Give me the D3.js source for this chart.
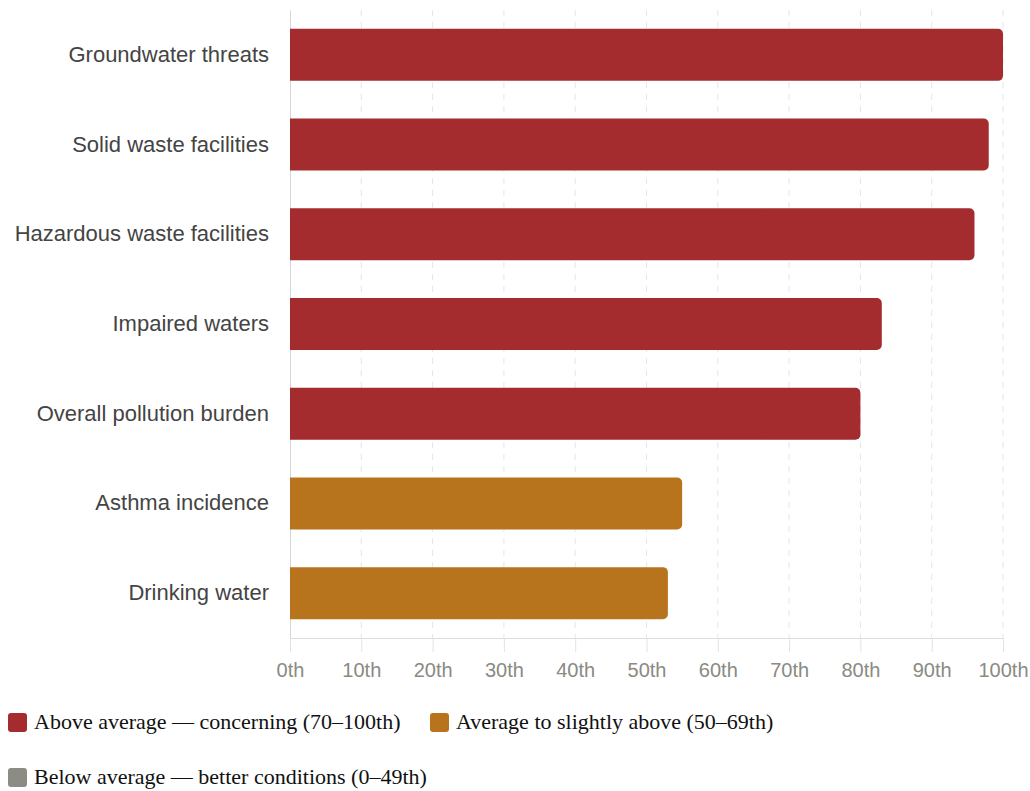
<!DOCTYPE html>
<html>
<head>
<meta charset="utf-8">
<script src="https://cdn.jsdelivr.net/npm/d3@7"></script>
<style>
  body { margin: 0; background: #fff; }
</style>
</head>
<body>
<div id="chart"></div>
<script>
// indicator percentiles
const categories = ['Groundwater threats', 'Solid waste facilities', 'Hazardous waste facilities',
  'Impaired waters', 'Overall pollution burden', 'Asthma incidence', 'Drinking water'];
const values = [100, 98, 96, 83, 80, 55, 53];
const tickValues = [0, 10, 20, 30, 40, 50, 60, 70, 80, 90, 100];
const legendLabels = ['Above average \u2014 concerning (70\u2013100th)',
  'Average to slightly above (50\u201369th)',
  'Below average \u2014 better conditions (0\u201349th)'];
const legendColors = ['#a42c2f', '#b8741c', '#8c8c84'];

const width = 1030, height = 791;
const margin = {top: 10, right: 27, bottom: 153, left: 290};

const svg = d3.select('#chart').append('svg')
  .attr('width', width)
  .attr('height', height);

const x = d3.scaleLinear()
  .domain([0, 100])
  .range([margin.left, width - margin.right]);

const y = d3.scaleBand()
  .domain(categories)
  .range([margin.top, height - margin.bottom])
  .paddingInner(0.42)
  .paddingOuter(0.21);

function colorFor(v) {
  if (v >= 70) return legendColors[0];
  if (v >= 50) return legendColors[1];
  return legendColors[2];
}

// dashed grid
svg.append('g')
  .selectAll('line')
  .data(tickValues.slice(1))
  .join('line')
  .attr('x1', d => x(d)).attr('x2', d => x(d))
  .attr('y1', margin.top).attr('y2', height - margin.bottom)
  .attr('stroke', '#e6e6e6')
  .attr('stroke-dasharray', '6,6');

// x axis
const xAxis = svg.append('g')
  .attr('transform', `translate(0,${height - margin.bottom})`)
  .call(d3.axisBottom(x).tickValues(tickValues).tickFormat(d => d + 'th').tickSize(14).tickSizeOuter(0).tickPadding(11));
xAxis.select('.domain').attr('stroke', '#dddddd');
xAxis.selectAll('.tick line').attr('stroke', '#e3e3e3');
xAxis.selectAll('.tick text')
  .attr('fill', '#8a8a82')
  .style('font-family', 'Helvetica, "Liberation Sans", Arial, sans-serif')
  .style('font-size', '20px');

// y axis
const yAxis = svg.append('g')
  .attr('transform', `translate(${margin.left},0)`)
  .call(d3.axisLeft(y).tickSize(0).tickPadding(21).tickSizeOuter(0));
yAxis.select('.domain').attr('stroke', '#d6d6d6');
yAxis.selectAll('.tick text')
  .attr('fill', '#444')
  .style('font-family', 'Helvetica, "Liberation Sans", Arial, sans-serif')
  .style('font-size', '22px');

// bars, right corners rounded
function barPath(v, cat) {
  const x0 = x(0), x1 = x(v), y0 = y(cat), h = y.bandwidth();
  const r = Math.min(5, (x1 - x0) / 2);
  const p = d3.path();
  p.moveTo(x0, y0);
  p.lineTo(x1 - r, y0);
  p.arcTo(x1, y0, x1, y0 + r, r);
  p.lineTo(x1, y0 + h - r);
  p.arcTo(x1, y0 + h, x1 - r, y0 + h, r);
  p.lineTo(x0, y0 + h);
  p.closePath();
  return p.toString();
}

svg.append('g')
  .selectAll('path')
  .data(values)
  .join('path')
  .attr('d', (d, i) => barPath(d, categories[i]))
  .attr('fill', d => colorFor(d));

// legend
const legendPos = [[8, 713], [430, 713], [8, 768]];
const legend = svg.append('g');
const items = legend.selectAll('g')
  .data(legendLabels)
  .join('g')
  .attr('transform', (d, i) => `translate(${legendPos[i][0]},${legendPos[i][1]})`);
items.append('rect')
  .attr('width', 19).attr('height', 19).attr('rx', 3)
  .attr('fill', (d, i) => legendColors[i]);
items.append('text')
  .attr('x', 26).attr('y', 16)
  .attr('fill', '#111')
  .style('font-family', '"Times New Roman", "Liberation Serif", serif')
  .style('font-size', '22px')
  .text(d => d);
</script>
</body>
</html>
